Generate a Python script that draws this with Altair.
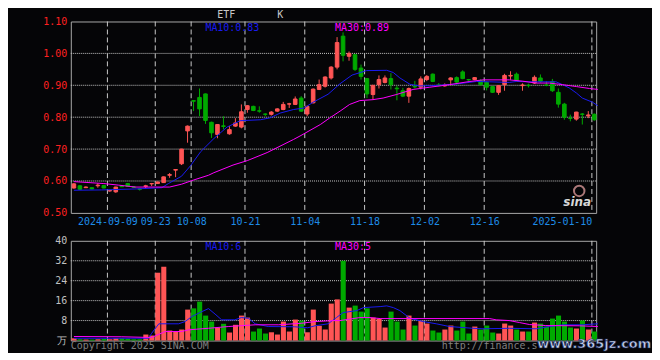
import altair as alt
import pandas as pd

# ---------------- data ----------------
dates = [
    "2024-08-30", "2024-09-02", "2024-09-03", "2024-09-04", "2024-09-05", "2024-09-06",
    "2024-09-09", "2024-09-10", "2024-09-11", "2024-09-12", "2024-09-13",
    "2024-09-18", "2024-09-19", "2024-09-20",
    "2024-09-23", "2024-09-24", "2024-09-25", "2024-09-26", "2024-09-27", "2024-09-30",
    "2024-10-08", "2024-10-09", "2024-10-10", "2024-10-11",
    "2024-10-14", "2024-10-15", "2024-10-16", "2024-10-17", "2024-10-18",
    "2024-10-21", "2024-10-22", "2024-10-23", "2024-10-24", "2024-10-25",
    "2024-10-28", "2024-10-29", "2024-10-30", "2024-10-31", "2024-11-01",
    "2024-11-04", "2024-11-05", "2024-11-06", "2024-11-07", "2024-11-08",
    "2024-11-11", "2024-11-12", "2024-11-13", "2024-11-14", "2024-11-15",
    "2024-11-18", "2024-11-19", "2024-11-20", "2024-11-21", "2024-11-22",
    "2024-11-25", "2024-11-26", "2024-11-27", "2024-11-28", "2024-11-29",
    "2024-12-02", "2024-12-03", "2024-12-04", "2024-12-05", "2024-12-06",
    "2024-12-09", "2024-12-10", "2024-12-11", "2024-12-12", "2024-12-13",
    "2024-12-16", "2024-12-17", "2024-12-18", "2024-12-19", "2024-12-20",
    "2024-12-23", "2024-12-24", "2024-12-25", "2024-12-26", "2024-12-27",
    "2024-12-30", "2024-12-31", "2025-01-02", "2025-01-03",
    "2025-01-06", "2025-01-07", "2025-01-08", "2025-01-09", "2025-01-10",
]
opens = [
    0.578, 0.585, 0.579, 0.579, 0.585, 0.586,
    0.569, 0.566, 0.584, 0.592, 0.582, 0.575, 0.583, 0.591,
    0.592, 0.595, 0.618, 0.634, 0.654, 0.757,
    0.852, 0.862, 0.873, 0.784, 0.746, 0.773, 0.748, 0.772, 0.769,
    0.824, 0.834, 0.820, 0.810, 0.809, 0.819, 0.824, 0.841, 0.840, 0.860,
    0.810, 0.845, 0.887, 0.897, 0.923, 0.957, 1.054, 0.991, 0.996, 0.954,
    0.921, 0.871, 0.902, 0.909, 0.921, 0.891, 0.883, 0.866, 0.897, 0.894,
    0.918, 0.935, 0.901, 0.898, 0.917, 0.924, 0.942, 0.918, 0.918, 0.915,
    0.909, 0.896, 0.878, 0.902, 0.929, 0.935, 0.899, 0.900, 0.907, 0.923,
    0.901, 0.912, 0.878, 0.841, 0.797, 0.794, 0.810, 0.804, 0.809,
]
highs = [
    0.594, 0.587, 0.583, 0.580, 0.593, 0.588,
    0.572, 0.582, 0.585, 0.593, 0.583, 0.577, 0.588, 0.594,
    0.598, 0.614, 0.625, 0.637, 0.701, 0.774,
    0.852, 0.890, 0.874, 0.786, 0.778, 0.803, 0.772, 0.797, 0.840,
    0.838, 0.836, 0.834, 0.812, 0.819, 0.828, 0.848, 0.845, 0.865, 0.866,
    0.836, 0.890, 0.918, 0.928, 0.960, 1.051, 1.066, 1.006, 0.997, 0.965,
    0.923, 0.901, 0.931, 0.931, 0.938, 0.899, 0.892, 0.893, 0.914, 0.928,
    0.932, 0.937, 0.907, 0.906, 0.925, 0.928, 0.947, 0.920, 0.926, 0.919,
    0.912, 0.898, 0.901, 0.936, 0.944, 0.940, 0.906, 0.905, 0.931, 0.934,
    0.913, 0.920, 0.890, 0.845, 0.808, 0.817, 0.813, 0.819, 0.812,
]
lows = [
    0.576, 0.572, 0.578, 0.574, 0.579, 0.577,
    0.566, 0.563, 0.581, 0.582, 0.579, 0.570, 0.577, 0.584,
    0.591, 0.594, 0.610, 0.612, 0.650, 0.720,
    0.819, 0.803, 0.779, 0.735, 0.734, 0.762, 0.745, 0.770, 0.765,
    0.814, 0.819, 0.814, 0.803, 0.805, 0.817, 0.822, 0.829, 0.838, 0.817,
    0.803, 0.843, 0.885, 0.893, 0.918, 0.950, 0.975, 0.977, 0.945, 0.918,
    0.860, 0.855, 0.890, 0.906, 0.887, 0.853, 0.863, 0.845, 0.890, 0.887,
    0.913, 0.910, 0.897, 0.896, 0.900, 0.903, 0.919, 0.914, 0.916, 0.899,
    0.884, 0.876, 0.870, 0.883, 0.917, 0.911, 0.883, 0.893, 0.904, 0.908,
    0.897, 0.879, 0.830, 0.792, 0.787, 0.789, 0.777, 0.797, 0.789,
]
closes = [
    0.591, 0.574, 0.581, 0.575, 0.587, 0.578,
    0.570, 0.581, 0.582, 0.583, 0.580, 0.574, 0.585, 0.592,
    0.597, 0.613, 0.620, 0.636, 0.700, 0.772,
    0.850, 0.826, 0.790, 0.751, 0.777, 0.771, 0.761, 0.782, 0.817,
    0.836, 0.821, 0.819, 0.809, 0.816, 0.826, 0.840, 0.842, 0.857, 0.819,
    0.834, 0.888, 0.902, 0.926, 0.957, 1.034, 0.994, 1.000, 0.950, 0.928,
    0.873, 0.900, 0.918, 0.923, 0.902, 0.889, 0.866, 0.890, 0.895, 0.920,
    0.928, 0.912, 0.899, 0.901, 0.923, 0.910, 0.921, 0.917, 0.924, 0.902,
    0.894, 0.878, 0.899, 0.931, 0.931, 0.915, 0.901, 0.899, 0.925, 0.912,
    0.900, 0.883, 0.841, 0.800, 0.796, 0.816, 0.809, 0.807, 0.792,
]
volumes = [
    0.9, 0.5, 0.4, 0.4, 0.5, 0.7,
    0.5, 0.9, 0.9, 0.7, 0.5, 0.5, 2.4, 2.0,
    27.2, 29.6, 4.0, 3.5, 4.4, 12.4,
    12.9, 15.6, 10.0, 7.6, 5.2, 6.7, 3.2, 6.3, 10.0,
    9.2, 3.6, 4.8, 2.8, 3.3, 2.4, 7.6, 3.6, 8.4, 8.0,
    3.3, 12.4, 5.9, 4.4, 14.8, 16.5, 32.0, 13.2, 14.0, 11.6,
    12.9, 9.2, 8.7, 5.2, 11.6, 7.6, 4.4, 10.0, 6.0, 7.9,
    6.8, 4.0, 3.2, 4.4, 6.0, 4.0, 7.6, 2.8, 5.6, 4.4,
    6.0, 3.2, 2.8, 6.8, 6.0, 4.4, 3.6, 3.6, 7.2, 6.8,
    5.6, 8.8, 10.0, 7.6, 5.2, 4.8, 8.0, 4.4, 3.6,
]

# moving averages (position in trading days from 2024-09-09, value)
ma10_pos = [-6, -1.4, 4.2, 8.7, 9.8, 12, 13.5, 15.2, 17.4, 19.6, 21.8, 25.2, 26.8, 28.5,
            30.7, 32.5, 34, 36.5, 38.5, 40.5, 42.9, 46.3, 47.4, 48.5, 50.2, 51.8, 54,
            56.3, 58, 61.3, 63.5, 66.8, 68, 70, 72.4, 74.6, 75.7, 76.8, 78, 79, 80.7, 81.6]
ma10_val = [0.571, 0.572, 0.575, 0.579, 0.592, 0.615, 0.648, 0.692, 0.733, 0.769, 0.789,
            0.792, 0.798, 0.813, 0.824, 0.829, 0.847, 0.872, 0.905, 0.932, 0.946, 0.947,
            0.940, 0.923, 0.903, 0.898, 0.899, 0.902, 0.904, 0.912, 0.911, 0.909, 0.912,
            0.911, 0.911, 0.911, 0.902, 0.892, 0.876, 0.860, 0.847, 0.836]
ma30_pos = [-6, -1, 1.5, 4.3, 10, 12, 14, 16.5, 17.4, 20.6, 23, 26.3, 30.7, 31.8, 35.2,
            36.8, 38.5, 40.1, 41.8, 44, 45.7, 47.9, 50.7, 53.5, 56.8, 60.2, 62.4, 66.8,
            69, 71.3, 73.5, 75.7, 78, 80.2, 81.6]
ma30_val = [0.598, 0.592, 0.587, 0.581, 0.581, 0.590, 0.603, 0.618, 0.626, 0.650, 0.664,
            0.689, 0.730, 0.741, 0.777, 0.798, 0.819, 0.840, 0.852, 0.855, 0.860, 0.871,
            0.887, 0.894, 0.902, 0.912, 0.917, 0.917, 0.913, 0.907, 0.907, 0.902, 0.896,
            0.890, 0.887]
vma10_pos = [-6, 6.5, 7, 8.2, 11.5, 12.6, 13.7, 15.4, 16.5, 17.6, 18.7, 20.9, 22, 23.2,
             24.3, 26.5, 30.9, 33.1, 34.3, 36.5, 37.9, 39, 41.3, 42.4, 45.2, 46.3, 47.4,
             48.5, 50.2, 52.4, 54.6, 56.8, 60.7, 62.4, 66.8, 71.3, 73.5, 75.7, 79, 81.6]
vma10_val = [0.9, 0.9, 2.9, 6.7, 6.7, 7.6, 9.6, 11.6, 12.8, 10.6, 8.3, 8.3, 9.2, 8.9,
             6.7, 5.6, 5.5, 5.1, 5.9, 6.7, 9.2, 11.2, 12.0, 13.2, 13.6, 13.9, 13.2,
             12.0, 8.9, 7.6, 6.7, 5.6, 4.9, 4.7, 4.9, 4.7, 5.6, 6.3, 6.3, 6.7]
vma30_pos = [-6, 2, 7, 8.2, 9.3, 12, 13.2, 16.5, 19.8, 24.3, 28.2, 32, 34.3, 37.5, 38.5,
             41.8, 43.5, 45.2, 63.5, 64.6, 66.8, 68.5, 70.2, 72.9, 78.5, 81.6]
vma30_val = [1.6, 1.5, 1.2, 2.5, 3.6, 3.6, 4.3, 4.9, 5.6, 6.3, 6.3, 6.9, 7.6, 8.0, 8.0,
             9.2, 9.2, 8.8, 8.8, 8.3, 8.0, 7.2, 6.4, 6.0, 5.9, 5.6]

tick_dates = ["2024-09-09", "2024-09-23", "2024-10-08", "2024-10-21", "2024-11-04",
              "2024-11-18", "2024-12-02", "2024-12-16", "2025-01-10"]
tick_labels = ["2024-09-09", "09-23", "10-08", "10-21", "11-04",
               "11-18", "12-02", "12-16", "2025-01-10"]
price_ticks = [0.5, 0.6, 0.7, 0.8, 0.9, 1.0, 1.1]
price_grid = [0.6, 0.7, 0.8, 0.9, 1.0]
vol_ticks = [0, 8, 16, 24, 32, 40]
vol_grid = [8, 16, 24, 32]

# ---------------- styling ----------------
RED = "#FF5555"
GREEN = "#00AA00"
BLUE = "#1A1AF0"
MAGENTA = "#FF00FF"
BG = "#050507"
GRID = "#C8C8C8"
FONT = "DejaVu Sans Mono"

zero = dates.index("2024-09-09")
df = pd.DataFrame({"date": dates, "open": opens, "high": highs, "low": lows,
                   "close": closes, "vol": volumes})
df["i"] = [k - zero for k in range(len(dates))]
df["dir"] = ["up" if c >= o else "down" for o, c in zip(opens, closes)]
tick_idx = [dates.index(d) - zero for d in tick_dates]

XS = alt.Scale(domain=[-6.12, 81.72], nice=False, zero=False)
PS = alt.Scale(domain=[0.5, 1.1], nice=False, zero=False)
VS = alt.Scale(domain=[0, 40], nice=False, zero=True)
CS = alt.Scale(domain=["up", "down"], range=[RED, GREEN])

label_expr = " : ".join(f"datum.value == {i} ? '{l}'" for i, l in zip(tick_idx, tick_labels)) + " : ''"

XAX = alt.Axis(values=tick_idx, labelExpr=label_expr, title=None, grid=False, ticks=False,
               domain=False, labelColor="#1E8CE6", labelFont=FONT, labelFontSize=10,
               labelPadding=4, labelFlush=False, labelOverlap=False,
               labelAlign={"condition": {"test": "datum.value > 80", "value": "right"}, "value": "center"},
               minExtent=16, maxExtent=16)
PAX = alt.Axis(values=price_ticks, format=".2f", title=None, grid=False, ticks=False,
               domain=False, labelColor="#FF2020", labelFont=FONT, labelFontSize=10,
               labelPadding=4, labelFlush=False, minExtent=62, maxExtent=62)
VAX = alt.Axis(values=vol_ticks, labelExpr="datum.value == 0 ? '万' : datum.label", title=None,
               grid=False, ticks=False, domain=False, labelColor="#C0C0C0", labelFont=FONT,
               labelFontSize=10, labelPadding=4, labelFlush=False, minExtent=62, maxExtent=62)


def txt(s, x, y, color, size=10, font=FONT, **kw):
    return alt.Chart(pd.DataFrame({"s": [s]})).mark_text(
        align="left", baseline="middle", font=font, fontSize=size, color=color, **kw
    ).encode(x=alt.value(x), y=alt.value(y), text="s:N")


def ma_line(pos, val, color, yscale, yaxis, xaxis):
    return alt.Chart(pd.DataFrame({"p": pos, "v": val})).mark_line(
        color=color, strokeWidth=1
    ).transform_calculate(xl="datum.p + 0.4").encode(
        x=alt.X("xl:Q", scale=XS, axis=xaxis), y=alt.Y("v:Q", scale=yscale, axis=yaxis)
    )


# ---------------- price panel ----------------
hgrid = alt.Chart(pd.DataFrame({"g": price_grid})).mark_rule(
    color=GRID, strokeDash=[1, 1], strokeWidth=1
).encode(y=alt.Y("g:Q", scale=PS, axis=PAX))
vgrid = alt.Chart(pd.DataFrame({"t": tick_idx})).mark_rule(
    color=GRID, strokeDash=[5, 3], strokeWidth=1
).encode(x=alt.X("t:Q", scale=XS, axis=XAX))
wicks = alt.Chart(df).mark_rule(strokeWidth=1).transform_calculate(
    xm="datum.i + 0.4"
).encode(
    x=alt.X("xm:Q", scale=XS, axis=XAX),
    y=alt.Y("low:Q", scale=PS, axis=PAX), y2="high:Q",
    color=alt.Color("dir:N", scale=CS, legend=None),
)
bodies = alt.Chart(df).mark_rect(strokeWidth=1).transform_calculate(
    xb="datum.i + 0.1", xe="datum.i + 0.7"
).encode(
    x=alt.X("xb:Q", scale=XS, axis=XAX), x2="xe:Q",
    y=alt.Y("open:Q", scale=PS, axis=PAX), y2="close:Q",
    fill=alt.Color("dir:N", scale=CS, legend=None),
    stroke=alt.Color("dir:N", scale=CS, legend=None),
)
logo_eye = alt.Chart(pd.DataFrame({"a": [0]})).mark_point(
    shape="circle", size=110, filled=False, stroke="#F0A8A8", strokeWidth=2
).encode(x=alt.value(510), y=alt.value(170))
price = alt.layer(
    hgrid, vgrid, wicks, bodies,
    ma_line(ma10_pos, ma10_val, BLUE, PS, PAX, XAX),
    ma_line(ma30_pos, ma30_val, MAGENTA, PS, PAX, XAX),
    txt("MA10:0.83", 135, 7, BLUE),
    txt("MA30:0.89", 265, 7, MAGENTA),
    txt("ETF", 147, -7, "#C8C8C8"),
    txt("K", 207, -7, "#C8C8C8"),
    logo_eye,
    txt("sina", 494, 181, "#D8D8D8", size=12, font="DejaVu Sans", fontWeight="bold", fontStyle="italic"),
).properties(width=527, height=192)

# ---------------- volume panel ----------------
vhgrid = alt.Chart(pd.DataFrame({"g": vol_grid})).mark_rule(
    color=GRID, strokeDash=[1, 1], strokeWidth=1
).encode(y=alt.Y("g:Q", scale=VS, axis=VAX))
vvgrid = alt.Chart(pd.DataFrame({"t": tick_idx})).mark_rule(
    color=GRID, strokeDash=[5, 3], strokeWidth=1
).encode(x=alt.X("t:Q", scale=XS, axis=None))
bars = alt.Chart(df).mark_rect().transform_calculate(
    xb="datum.i", xe="datum.i + 0.85"
).encode(
    x=alt.X("xb:Q", scale=XS, axis=None), x2="xe:Q",
    y=alt.Y("vol:Q", scale=VS, axis=VAX), y2=alt.datum(0),
    color=alt.Color("dir:N", scale=CS, legend=None),
)

vol = alt.layer(
    vhgrid, vvgrid, bars,
    ma_line(vma10_pos, vma10_val, BLUE, VS, VAX, None),
    ma_line(vma30_pos, vma30_val, MAGENTA, VS, VAX, None),
    txt("MA10:6", 135, 6.5, BLUE),
    txt("MA30:5", 265, 6.5, MAGENTA),
    txt("Copyright 2025 SINA.COM", 0, 106, "#808080"),
    txt("http://finance.s", 372, 106, "#808080"),
    txt("www.365jz.com", 468, 104, "#C8D4EC", size=13, font="DejaVu Sans",
        fontWeight="bold", stroke="#1C2C5C", strokeWidth=0.7),
).properties(width=527, height=100)

chart = alt.vconcat(price, vol, spacing=5).properties(
    background=BG, padding={"left": 0, "top": 0, "right": 0, "bottom": 0}
).configure_view(stroke="#A8A8A8", strokeWidth=1)

chart.save("out.html", embed_options={"renderer": "svg", "actions": False})
